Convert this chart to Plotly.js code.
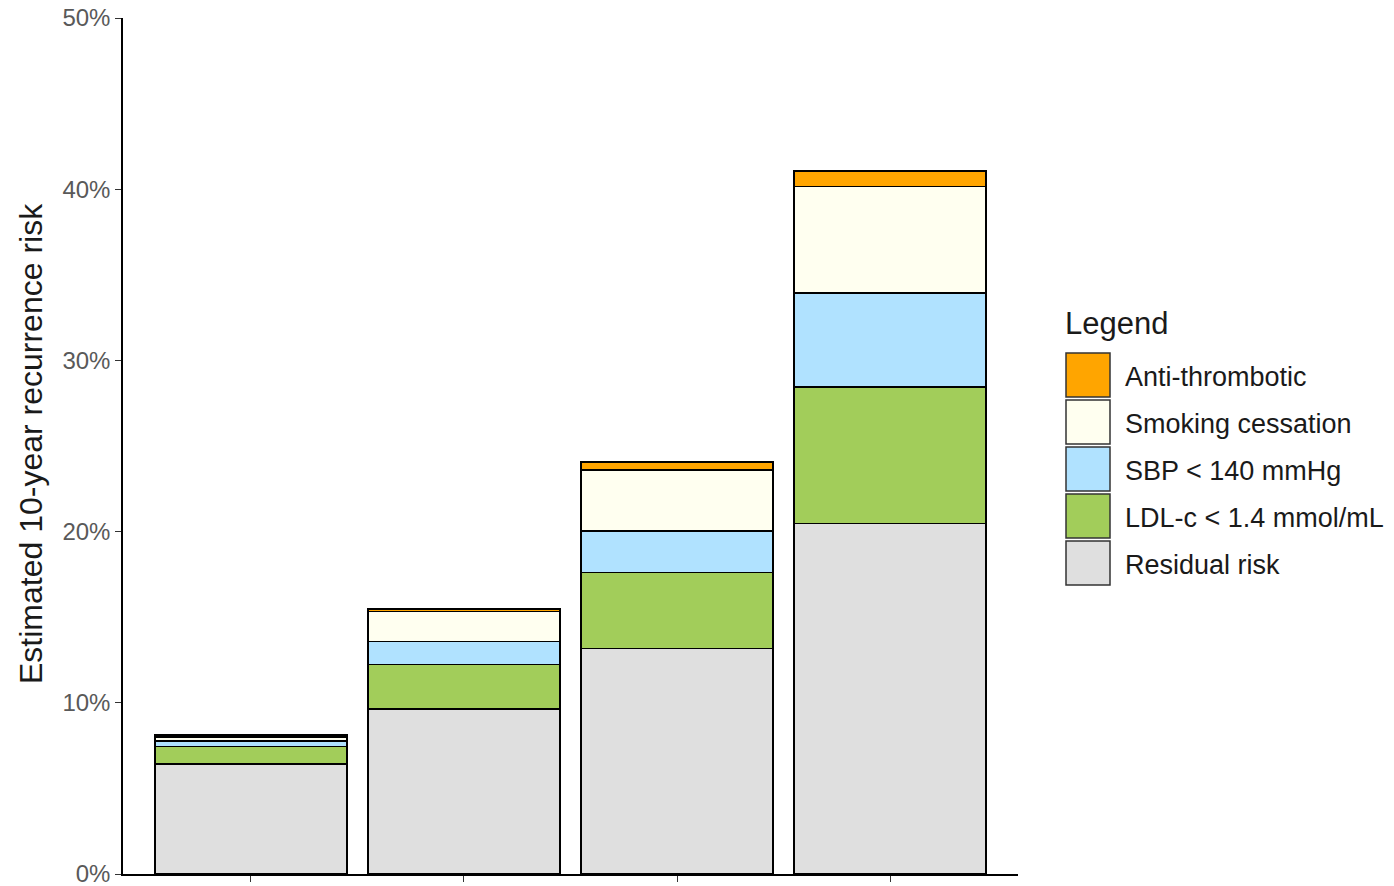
<!DOCTYPE html>
<html>
<head>
<meta charset="utf-8">
<script src="https://cdn.plot.ly/plotly-3.0.1.min.js"></script>
<style>
  html, body { margin: 0; padding: 0; background: #ffffff; }
  #chart { width: 1394px; height: 886px; }
</style>
</head>
<body>
<div id="chart"></div>
<script>
// Four risk groups (unlabelled on the axis), stacked risk components in %
const groups = [0, 1, 2, 3];
const groupLabels = ["", "", "", ""];

const residualRisk   = [6.43, 9.64, 13.17, 20.48];
const ldlC           = [1.02, 2.59, 4.44, 7.98];
const sbp            = [0.32, 1.35, 2.41, 5.49];
const smoking        = [0.25, 1.75, 3.58, 6.20];
const antiThrombotic = [0.10, 0.15, 0.45, 0.93];

const yTicks = [0, 10, 20, 30, 40, 50];

// Stacking order from bottom to top
const series = [
  { name: "Residual risk",        values: residualRisk,   color: "#DFDFDF" },
  { name: "LDL-c < 1.4 mmol/mL",  values: ldlC,           color: "#A2CD5A" },
  { name: "SBP < 140 mmHg",       values: sbp,            color: "#B0E2FF" },
  { name: "Smoking cessation",    values: smoking,        color: "#FFFFF0" },
  { name: "Anti-thrombotic",      values: antiThrombotic, color: "#FFA500" }
];

const traces = series.map(s => ({
  type: "bar",
  x: groups,
  y: s.values,
  name: s.name,
  width: 0.9,
  marker: { color: s.color, line: { color: "#000000", width: 1.6 } },
  hovertemplate: s.name + ": %{y:.2f}%<extra></extra>",
  showlegend: false
}));

// Plot area in pixels
const W = 1394, H = 886;
const plotL = 123, plotR = 1018, plotT = 18, plotB = 874;
const px = x => (x - plotL) / (plotR - plotL);
const py = y => (plotB - y) / (plotB - plotT);

// Hand-built legend with large square keys (top item = top of stack)
const shapes = [];
const annotations = [];
const legendItems = series.slice().reverse();
const keyLeft = 1066, keyRight = 1110, keyTop = 353, keySize = 44, keyStep = 47;
legendItems.forEach((s, i) => {
  const top = keyTop + keyStep * i;
  shapes.push({
    type: "rect", xref: "paper", yref: "paper",
    x0: px(keyLeft), x1: px(keyRight), y0: py(top + keySize), y1: py(top),
    fillcolor: s.color, line: { color: "#333333", width: 1.5 }
  });
  annotations.push({
    xref: "paper", yref: "paper", x: px(1123), y: py(top + keySize / 2 + 2),
    xanchor: "left", yanchor: "middle", showarrow: false, text: s.name,
    font: { family: "Liberation Sans, Arial, sans-serif", size: 27, color: "#1a1a1a" }
  });
});
annotations.push({
  xref: "paper", yref: "paper", x: px(1063), y: py(323),
  xanchor: "left", yanchor: "middle", showarrow: false, text: "Legend",
  font: { family: "Liberation Sans, Arial, sans-serif", size: 31, color: "#1a1a1a" }
});
// y-axis title
annotations.push({
  xref: "paper", yref: "paper", x: px(31), y: py(444),
  xanchor: "center", yanchor: "middle", showarrow: false, textangle: -90,
  text: "Estimated 10-year recurrence risk",
  font: { family: "Liberation Sans, Arial, sans-serif", size: 32, color: "#1a1a1a" }
});

const layout = {
  width: W, height: H,
  margin: { l: plotL, r: W - plotR, t: plotT, b: H - plotB, pad: 0 },
  paper_bgcolor: "#ffffff", plot_bgcolor: "#ffffff",
  barmode: "stack",
  xaxis: {
    range: [-0.6, 3.6], tickvals: groups, ticktext: groupLabels,
    showline: true, linecolor: "#000000", linewidth: 1.5,
    ticks: "outside", ticklen: 6, tickwidth: 1.2, tickcolor: "#333333",
    showgrid: false, zeroline: false, fixedrange: true
  },
  yaxis: {
    range: [0, 50], tickvals: yTicks, ticktext: yTicks.map(v => v + "%"),
    showline: true, linecolor: "#000000", linewidth: 1.5,
    ticks: "outside", ticklen: 6, tickwidth: 1.2, tickcolor: "#333333",
    ticklabeloverflow: "allow",
    tickfont: { family: "Liberation Sans, Arial, sans-serif", size: 24, color: "#595959" },
    showgrid: false, zeroline: false, fixedrange: true
  },
  shapes: shapes,
  annotations: annotations,
  showlegend: false
};

Plotly.newPlot("chart", traces, layout, { displayModeBar: false, staticPlot: false });
</script>
</body>
</html>
